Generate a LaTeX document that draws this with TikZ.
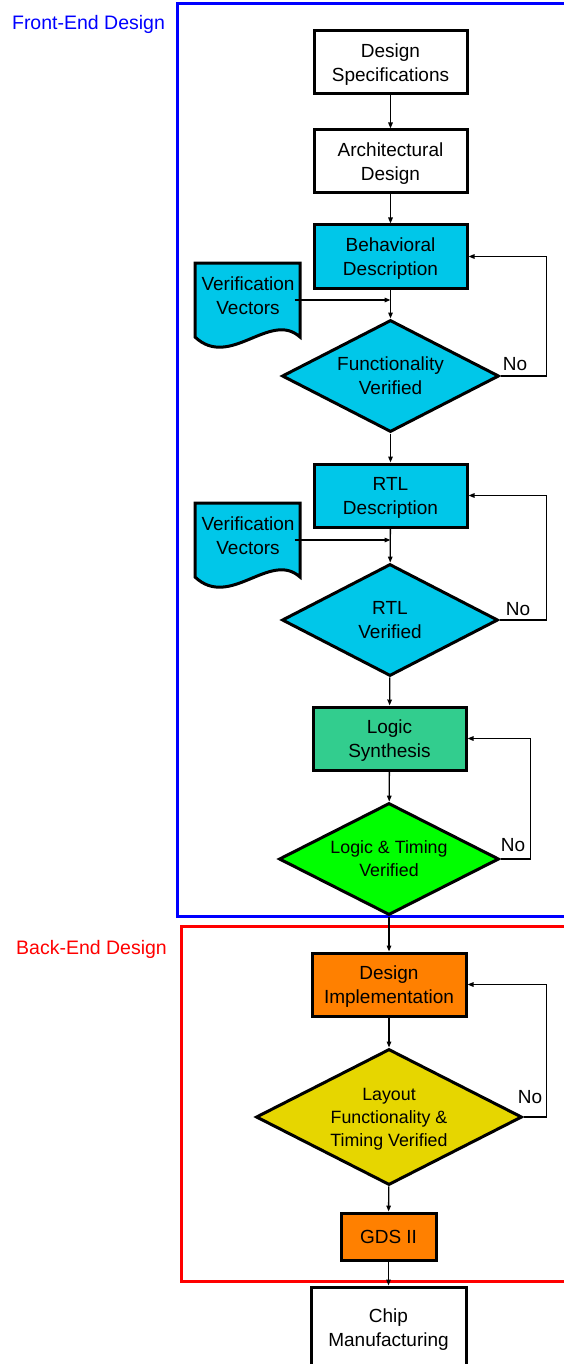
\documentclass[tikz,border=0pt]{standalone}
\usepackage{fontspec}
\setmainfont{Liberation Sans}
\usetikzlibrary{shapes.geometric,arrows.meta}

\definecolor{stagecyan}{RGB}{0,199,233}
\definecolor{synthgreen}{RGB}{50,205,142}
\definecolor{checkgreen}{RGB}{0,255,0}
\definecolor{backorange}{RGB}{255,128,0}
\definecolor{layoutyellow}{RGB}{230,214,0}

\begin{document}
\begin{tikzpicture}[x=1pt,y=-1pt,
  every node/.style={font=\fontsize{19}{24}\selectfont, align=center, inner sep=0pt},
  procbox/.style={draw, line width=3pt, rectangle, minimum width=153pt, minimum height=63pt, text depth=-1pt},
  decision/.style={draw, line width=3pt, diamond, shape aspect=2, text depth=-3pt},
  smalltext/.style={font=\fontsize{17.8}{23}\selectfont},
  docshape/.style={draw, line width=3pt, fill=stagecyan},
  flow/.style={line width=1.3pt, -{Triangle[length=6pt,width=4.5pt]}},
  frontframe/.style={draw=blue, line width=3pt},
  backframe/.style={draw=red, line width=3pt},
  phaselabel/.style={font=\fontsize{19.5}{24}\selectfont}]

\useasboundingbox (0,0) rectangle (564,1364);
\clip (0,0) rectangle (564,1364);

% design-phase frames
\draw[frontframe] (600,4) -| (177,916) -- (600,916);
\draw[backframe] (600,926) -| (181,1281) -- (600,1281);
\node[phaselabel, text=blue] (fe) at (88.5,24) {Front-End Design};
\node[phaselabel, text=red] (be) at (91.5,949) {Back-End Design};

% main flow
\node[procbox] (spec) at (390.5,62.5) {Design\\Specifications};
\node[procbox] (arch) at (390.5,161.5) {Architectural\\Design};
\node[procbox, fill=stagecyan] (behav) at (390.5,256.5) {Behavioral\\Description};
\node[decision, fill=stagecyan, minimum width=217pt, minimum height=112pt] (fv) at (390.5,376) {Functionality\\Verified};
\node[procbox, fill=stagecyan] (rtl) at (390.5,495.5) {RTL\\Description};
\node[decision, fill=stagecyan, minimum width=216pt, minimum height=112pt] (rv) at (390,620) {RTL\\Verified};
\node[procbox, fill=synthgreen] (ls) at (389.5,738.5) {Logic\\Synthesis};
\node[decision, fill=checkgreen, smalltext, minimum width=220pt, minimum height=112pt] (ltv) at (389,859) {Logic \& Timing\\Verified};
\node[procbox, fill=backorange, minimum width=154pt] (di) at (389,984.5) {Design\\Implementation};
\node[decision, fill=layoutyellow, smalltext, minimum width=266pt, minimum height=136pt] (lv) at (389,1117) {Layout\\Functionality \&\\Timing Verified};
\node[procbox, fill=backorange, minimum width=95pt, minimum height=47pt] (gds) at (388.5,1236.5) {GDS II};
\node[procbox, minimum width=155pt, minimum height=82pt] (chip) at (388.5,1328) {Chip\\Manufacturing};

% verification vector documents
\draw[docshape] (195,263) -- (300,263) -- (300,337)
  .. controls (270,310) and (230,370) .. (195,337) -- cycle;
\node (vv1) at (248,296) {Verification\\Vectors};
\begin{scope}[shift={(0,240)}]
\draw[docshape] (195,263) -- (300,263) -- (300,337)
  .. controls (270,310) and (230,370) .. (195,337) -- cycle;
\end{scope}
\node (vv2) at (248,536) {Verification\\Vectors};

% connectors
\draw[flow] (spec) -- (arch);
\draw[flow] (arch) -- (behav);
\draw[flow] (behav) -- (fv);
\draw[flow] ([yshift=-4pt]vv1.east) -- ([yshift=-4pt]vv1.east -| behav.south);
\draw[flow] (fv) -- (rtl);
\draw[flow] (rtl) -- (rv);
\draw[flow] ([yshift=-4pt]vv2.east) -- ([yshift=-4pt]vv2.east -| rtl.south);
\draw[flow] (rv) -- (ls);
\draw[flow] (ls) -- (ltv);
\draw[flow] (ltv) -- (di);
\draw[flow] (di) -- (lv);
\draw[flow] (lv) -- (gds);
\draw[flow] (gds) -- (chip);

% rework loops
\draw[flow] (fv.east) -- ++(46,0) |- (behav.east);
\draw[flow] (rv.east) -- ++(47,0) |- (rtl.east);
\draw[flow] (ltv.east) -- ++(30,0) |- (ls.east);
\draw[flow] (lv.east) -- ++(23,0) |- (di.east);
\node (no1) at (515,364) {No};
\node (no2) at (518,609) {No};
\node (no3) at (513,845) {No};
\node (no4) at (530,1097) {No};
\end{tikzpicture}
\end{document}
